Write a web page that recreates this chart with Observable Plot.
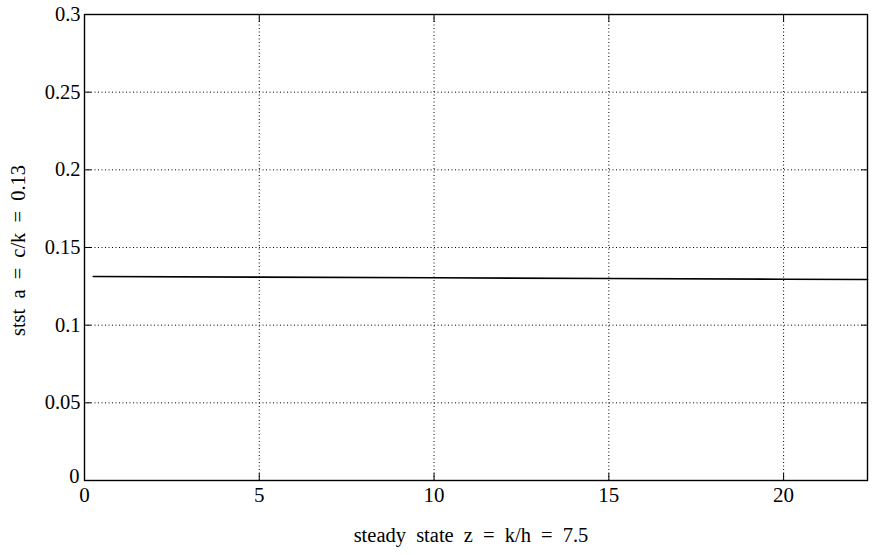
<!DOCTYPE html>
<html>
<head>
<meta charset="utf-8">
<script src="https://cdn.jsdelivr.net/npm/d3@7"></script>
<script src="https://cdn.jsdelivr.net/npm/@observablehq/plot@0.6"></script>
<style>
  html, body { margin: 0; padding: 0; background: #fff; }
  #chart { width: 873px; height: 555px; }
  svg text { font-family: "Liberation Serif", "DejaVu Serif", serif; }
</style>
</head>
<body>
<div id="chart"></div>
<script>
const xTicks = [0, 5, 10, 15, 20];
const yTicks = [0, 0.05, 0.1, 0.15, 0.2, 0.25, 0.3];
const yTickLabels = ["0", "0.05", "0.1", "0.15", "0.2", "0.25", "0.3"];
const lineX = [0.25, 5, 10, 15, 20, 22.4];
const lineY = [0.1313, 0.1309, 0.1305, 0.1300, 0.1296, 0.1294];
const xLabel = "steady state z = k/h = 7.5";
const yLabel = "stst a = c/k = 0.13";

const lineData = lineX.map((x, i) => ({x, y: lineY[i]}));
const gridX = xTicks.filter(d => d > 0);
const gridY = yTicks.filter(d => d > 0 && d < 0.3);

const chart = Plot.plot({
  width: 873,
  height: 555,
  marginLeft: 84,
  marginRight: 6,
  marginTop: 14,
  marginBottom: 75,
  style: {fontFamily: "Liberation Serif, serif", fontSize: "20px", color: "#000", background: "#fff"},
  x: {domain: [0, 22.4]},
  y: {domain: [0, 0.3]},
  marks: [
    Plot.ruleX(gridX, {stroke: "#000", strokeDasharray: "1,2.5", strokeWidth: 1}),
    Plot.ruleY(gridY, {stroke: "#000", strokeDasharray: "1,2.5", strokeWidth: 1}),
    Plot.frame({stroke: "#000", strokeWidth: 1.4}),
    Plot.axisX(xTicks, {anchor: "bottom", tickSize: -7, tickPadding: 14, fontSize: 21, label: null, tickFormat: d => String(d)}),
    Plot.axisX(xTicks, {anchor: "top", tickSize: -7, tickFormat: () => "", label: null}),
    Plot.axisY(yTicks, {anchor: "left", tickSize: -7, tickPadding: 11, fontSize: 20.5, label: null, tickFormat: d => d === 0 ? "" : yTickLabels[yTicks.indexOf(d)]}),
    Plot.text([yTicks[0]], {y: d => d, frameAnchor: "left", textAnchor: "end", dx: -5, dy: -4, fontSize: 20.5, text: d => yTickLabels[yTicks.indexOf(d)]}),
    Plot.axisY(yTicks, {anchor: "right", tickSize: -7, tickFormat: () => "", label: null}),
    Plot.line(lineData, {x: "x", y: "y", stroke: "#000", strokeWidth: 1.6}),
    Plot.text([xLabel], {frameAnchor: "bottom", dx: -5, dy: 61, fontSize: 20.5, text: d => d}),
    Plot.text([yLabel], {frameAnchor: "left", textAnchor: "middle", dx: -66, dy: 3, rotate: -90, fontSize: 20.5, text: d => d})
  ]
});
d3.select(chart).selectAll("text")
  .filter(function() { return this.textContent === xLabel || this.textContent === yLabel; })
  .style("word-spacing", "5px");
document.getElementById("chart").appendChild(chart);
</script>
</body>
</html>
